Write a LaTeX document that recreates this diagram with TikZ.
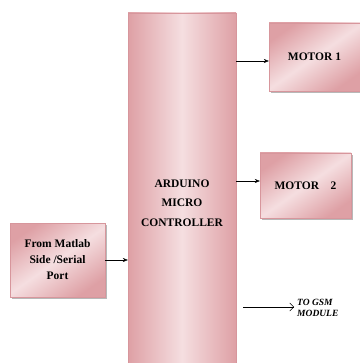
\documentclass[tikz,border=0pt]{standalone}
\usepackage{fontspec}
\setmainfont{Liberation Serif}
\usepackage{xcolor}
\usepackage{tikz}
\usetikzlibrary{arrows.meta, positioning, shadows}

\definecolor{pinkdark}{RGB}{222,160,165}
\definecolor{pinklight}{RGB}{245,222,224}
\definecolor{pinkedge}{RGB}{215,150,156}

\begin{document}
\begin{tikzpicture}[
    x=1pt, y=-1pt,
    blockbox/.style={rectangle, draw=pinkedge, thin,
                 left color=pinkdark, right color=pinkdark, middle color=pinklight,
                 align=center, font=\bfseries\fontsize{11.5}{16}\selectfont,
                 inner sep=0pt},
    shadowbox/.style={blockbox, shading angle=35,
                 drop shadow={shadow xshift=1.5pt, shadow yshift=-2pt, fill=gray!70, opacity=0.8}},
    arrow/.style={-{Stealth[length=5pt, width=4pt]}, thin}
]
\useasboundingbox (0,0) rectangle (359,363);
\node[blockbox, minimum width=108pt, minimum height=350pt] (main) at (182,188) {};
\node at (182,203) (mainlabel) [align=center, font=\bfseries\fontsize{11.5}{19.5}\selectfont]
      {ARDUINO\\MICRO\\CONTROLLER};
\node[shadowbox, minimum width=91pt, minimum height=68pt] (motor1) at (314.5,57) {MOTOR 1};
\node[shadowbox, minimum width=91pt, minimum height=65pt] (motor2) at (305.5,185.5) {MOTOR\quad2};
\node[shadowbox, minimum width=95pt, minimum height=74pt] (matlab) at (57.5,260)
      {From Matlab\\Side /Serial\\Port};
\node[anchor=west, align=left, inner sep=0pt,
      font=\bfseries\itshape\fontsize{9.5}{11.5}\selectfont] (gsm) at (297,308) {TO GSM\\MODULE};
\coordinate (gsmstart) at (243,307);

\draw[arrow] (main.east |- 0,61) -- (motor1.west |- 0,61);
\draw[arrow] (main.east |- 0,181) -- (motor2.west |- 0,181);
\draw[arrow] (matlab.east) -- (main.west |- matlab.east);
\draw[-{Straight Barb[length=4pt]}, thin] (gsmstart) -- ([xshift=-3pt]gsm.west |- gsmstart);
\end{tikzpicture}
\end{document}
